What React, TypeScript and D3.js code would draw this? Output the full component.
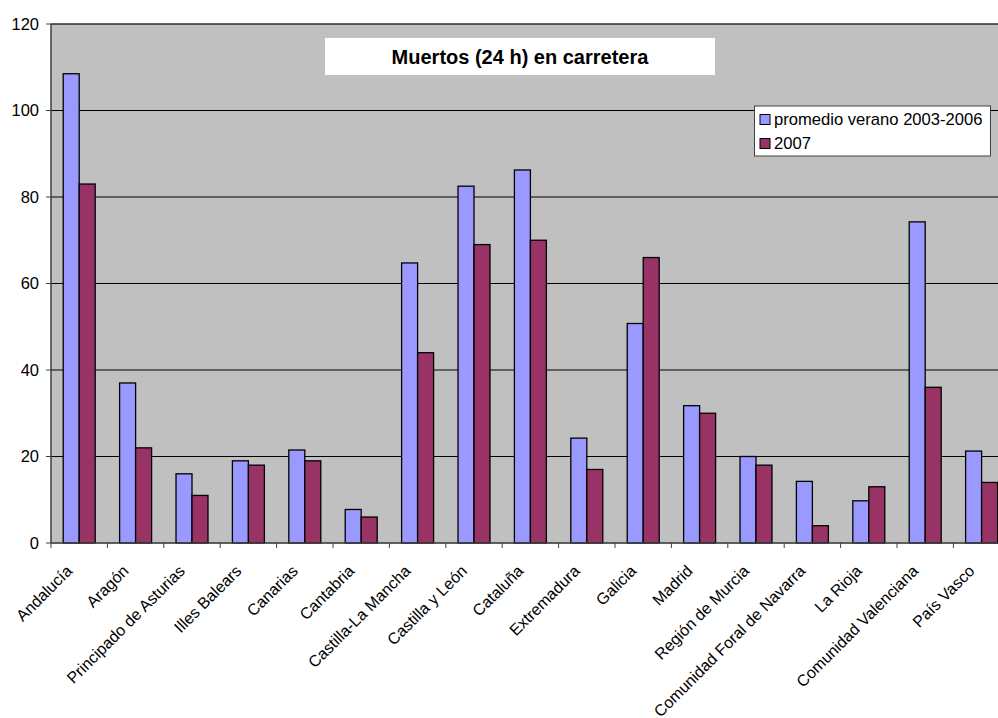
import { useEffect } from 'react';
import * as d3 from 'd3';

const regions = [
  'Andalucía', 'Aragón', 'Principado de Asturias', 'Illes Balears', 'Canarias',
  'Cantabria', 'Castilla-La Mancha', 'Castilla y León', 'Cataluña', 'Extremadura',
  'Galicia', 'Madrid', 'Región de Murcia', 'Comunidad Foral de Navarra', 'La Rioja',
  'Comunidad Valenciana', 'País Vasco',
];
const promedio = [108.5, 37, 16, 19, 21.5, 7.75, 64.75, 82.5, 86.25, 24.25, 50.75, 31.75, 20, 14.25, 9.75, 74.25, 21.25];
const y2007 = [83, 22, 11, 18, 19, 6, 44, 69, 70, 17, 66, 30, 18, 4, 13, 36, 14];
const seriesNames = ['promedio verano 2003-2006', '2007'];
const seriesColors = ['#9999FF', '#993366'];
const yTicks = [0, 20, 40, 60, 80, 100, 120];

const W = 998;
const H = 718;
const font = '"Liberation Sans", Arial, sans-serif';

const App = () => {
  useEffect(() => {
    document.body.style.margin = '0';
  }, []);

  // plot area (runs past the right edge, as in the original)
  const left = 51;
  const top = 24;
  const bottom = 543;
  const band = 56.4;

  const x = d3.scaleBand<string>()
    .domain(regions)
    .range([left, left + band * regions.length])
    .paddingInner(0)
    .paddingOuter(0);

  const gw = x.bandwidth() * 0.567;
  const x1 = d3.scaleBand<string>()
    .domain(seriesNames)
    .range([(x.bandwidth() - gw) / 2, (x.bandwidth() + gw) / 2]);

  const y = d3.scaleLinear().domain([0, 120]).range([bottom, top]);

  const plotRight = left + band * regions.length;
  const values = [promedio, y2007];

  return (
    <svg width={W} height={H} style={{ display: 'block', background: '#fff' }} fontFamily={font}>
      <rect x={left} y={top} width={plotRight - left} height={bottom - top} fill="#C0C0C0" stroke="#808080" />

      {/* grid */}
      {yTicks.slice(1).map(t => (
        <line key={t} x1={left} x2={plotRight} y1={y(t)} y2={y(t)} stroke="#000" strokeWidth={1} />
      ))}

      {/* bars */}
      {regions.map((r, i) => (
        <g key={r} transform={`translate(${x(r)},0)`}>
          {seriesNames.map((s, k) => (
            <rect
              key={s}
              x={x1(s)}
              y={y(values[k][i])}
              width={x1.bandwidth()}
              height={bottom - y(values[k][i])}
              fill={seriesColors[k]}
              stroke="#000"
              strokeWidth={1.3}
            />
          ))}
        </g>
      ))}

      {/* y axis */}
      <line x1={left} x2={left} y1={top} y2={bottom} stroke="#404040" strokeWidth={1.3} />
      {yTicks.map(t => (
        <g key={t}>
          <line x1={left - 5} x2={left} y1={y(t)} y2={y(t)} stroke="#404040" strokeWidth={1} />
          <text x={left - 12} y={y(t)} dy="0.35em" textAnchor="end" fontSize={16.5} fill="#000">{t}</text>
        </g>
      ))}

      {/* x axis */}
      <line x1={left} x2={plotRight} y1={bottom} y2={bottom} stroke="#404040" strokeWidth={1.3} />
      {regions.map(r => (
        <line key={r} x1={x(r)!} x2={x(r)!} y1={bottom} y2={bottom + 5} stroke="#404040" strokeWidth={1} />
      ))}
      {regions.map(r => (
        <text
          key={r}
          transform={`translate(${x(r)! + x.bandwidth() / 2 - 6},${bottom + 29}) rotate(-45)`}
          textAnchor="end"
          fontSize={16}
          fill="#000"
        >
          {r}
        </text>
      ))}

      {/* title */}
      <rect x={325} y={38} width={390} height={37} fill="#fff" />
      <text x={520} y={56.5} dy="0.35em" textAnchor="middle" fontSize={20} fontWeight="bold" fill="#000">
        Muertos (24 h) en carretera
      </text>

      {/* legend */}
      <rect x={754.5} y={106} width={236} height={50} fill="#fff" stroke="#404040" strokeWidth={1} />
      {seriesNames.map((s, k) => (
        <g key={s} transform={`translate(760,${119.5 + k * 24})`}>
          <rect x={0} y={-5} width={10} height={10} fill={seriesColors[k]} stroke="#000" strokeWidth={1} />
          <text x={14} y={0} dy="0.35em" fontSize={16.6} fill="#000">{s}</text>
        </g>
      ))}
    </svg>
  );
};

export default App;
